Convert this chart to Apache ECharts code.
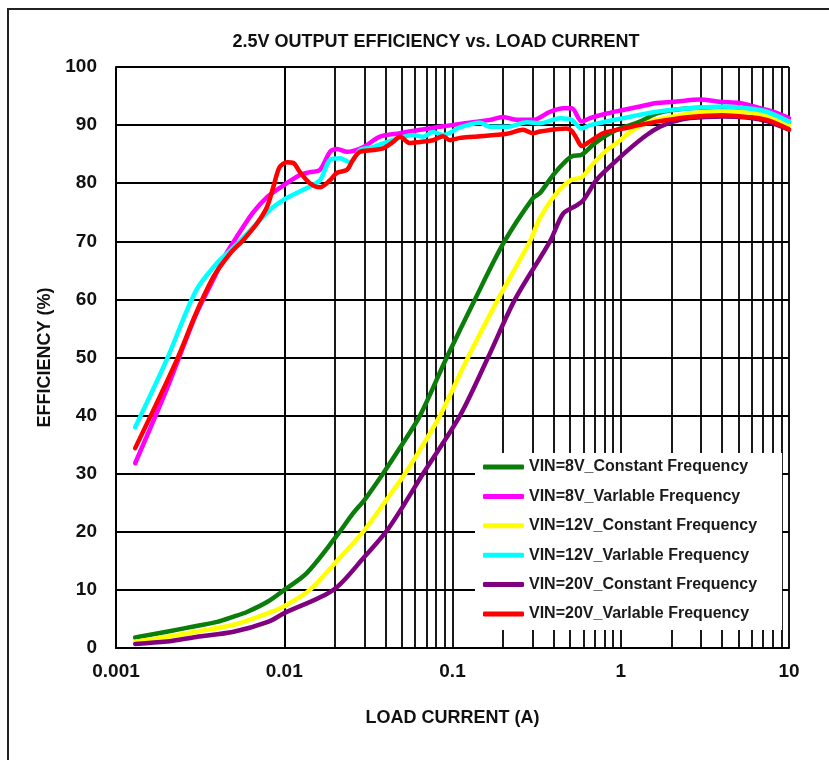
<!DOCTYPE html>
<html><head><meta charset="utf-8">
<script src="https://cdn.jsdelivr.net/npm/echarts@6/dist/echarts.min.js"></script>
<style>html,body{margin:0;padding:0;background:#fff}#c{width:829px;height:760px}</style>
</head><body><div id="c"></div>
<script>
// ---- data (load current in A, efficiency in %) ----
const xTickLabels = ['0.001', '0.01', '0.1', '1', '10'];
const yTickLabels = ['0', '10', '20', '30', '40', '50', '60', '70', '80', '90', '100'];
const seriesNames = [
  'VIN=8V_Constant Frequency',
  'VIN=8V_Varlable Frequency',
  'VIN=12V_Constant Frequency',
  'VIN=12V_Varlable Frequency',
  'VIN=20V_Constant Frequency',
  'VIN=20V_Varlable Frequency'
];
const seriesColors = ['#0a7d0a', '#ff00ff', '#ffff00', '#00ffff', '#800080', '#ff0000'];

const vin8CF = [[0.0013,1.8],[0.002,2.8],[0.003,3.8],[0.004,4.5],[0.005,5.4],[0.006,6.2],[0.008,8.0],[0.01,10.0],[0.0136,12.9],[0.02,18.9],[0.0257,23.2],[0.03,25.5],[0.0386,30],[0.0488,34.5],[0.0641,40],[0.0924,50],[0.136,60],[0.202,69.8],[0.3,77.4],[0.331,78.3],[0.396,81.4],[0.479,84.0],[0.52,84.7],[0.586,84.9],[0.703,86.9],[0.903,88.9],[1.301,90.6],[1.636,92.0],[2.053,92.6],[2.96,93.0],[4.05,93.0],[5.61,92.7],[7.37,92.0],[10,90.5]];
const vin8VF = [[0.0013,31.8],[0.002,44.5],[0.003,57.5],[0.0038,63.5],[0.0044,67.3],[0.0052,70.7],[0.0065,74.9],[0.0079,77.6],[0.0094,79.2],[0.0124,81.4],[0.0142,81.9],[0.0163,82.3],[0.0187,85.4],[0.0206,85.9],[0.0236,85.4],[0.0294,86.2],[0.0371,88],[0.0488,88.6],[0.0641,89.2],[0.0843,89.7],[0.1108,90.2],[0.167,90.9],[0.1995,91.4],[0.2415,90.9],[0.3009,90.9],[0.3797,92.3],[0.456,92.9],[0.511,92.9],[0.586,90.6],[0.657,91.2],[0.825,92.0],[1.031,92.6],[1.301,93.2],[1.636,93.8],[2.053,94.0],[2.96,94.4],[3.89,94.0],[5.11,93.8],[6.72,92.9],[8.04,92.3],[10,91.2]];
const vin12CF = [[0.0013,1.1],[0.002,1.9],[0.003,2.8],[0.005,4.0],[0.008,6.0],[0.01,7.2],[0.0142,10],[0.02,14.6],[0.03,20.3],[0.0405,25.5],[0.0522,30],[0.0641,34.1],[0.0843,40],[0.1236,50],[0.1864,60],[0.2888,70],[0.331,74.0],[0.416,78.3],[0.511,80.6],[0.586,81.0],[0.687,83.4],[0.825,85.7],[0.946,86.9],[1.187,89.2],[1.492,90.6],[2.053,91.5],[2.96,92.2],[4.05,92.4],[5.61,92.2],[7.37,91.6],[10,90.0]];
const vin12VF = [[0.0013,38],[0.002,49.6],[0.003,61.6],[0.004,66.3],[0.0048,68.5],[0.0057,70.6],[0.0072,73.7],[0.0086,75.9],[0.0104,77.5],[0.0137,79.2],[0.0163,80.5],[0.0187,84],[0.0214,84.3],[0.0246,83.6],[0.0282,85.7],[0.0337,86.2],[0.0408,87.1],[0.0488,87.8],[0.0582,88.3],[0.0668,88],[0.0766,88.8],[0.0878,88.3],[0.1108,89.6],[0.1457,90.4],[0.167,89.7],[0.211,89.7],[0.2773,90.5],[0.331,90.3],[0.435,91.2],[0.511,90.9],[0.586,89.4],[0.657,90.0],[1.031,91.2],[1.636,92.3],[2.58,92.9],[4.05,93.2],[5.61,92.9],[7.37,92.3],[10,90.6]];
const vin20CF = [[0.0013,0.7],[0.002,1.1],[0.003,1.9],[0.005,2.8],[0.008,4.5],[0.01,6.0],[0.0196,10],[0.03,15.7],[0.04,19.9],[0.0488,23.6],[0.0668,30],[0.1108,40],[0.1626,50],[0.2352,60],[0.3797,70],[0.4556,74.8],[0.547,76.2],[0.6,77.1],[0.719,80.6],[0.903,83.4],[1.135,86.0],[1.426,88.3],[1.711,89.7],[2.053,90.6],[2.58,91.2],[4.05,91.5],[5.61,91.3],[7.37,90.7],[10,89.2]];
const vin20VF = [[0.0013,34.4],[0.0023,49.6],[0.003,57.7],[0.0038,63.9],[0.0048,68],[0.0057,70.2],[0.0069,73.1],[0.0079,75.9],[0.0086,79.3],[0.0094,82.8],[0.0104,83.6],[0.0113,83.5],[0.0124,81.9],[0.0142,80],[0.0163,79.3],[0.0187,80.5],[0.0206,81.8],[0.0236,82.3],[0.0256,84],[0.0282,85.4],[0.0337,85.7],[0.0386,86],[0.0443,87.1],[0.0488,88],[0.0559,86.9],[0.0641,87.1],[0.0766,87.4],[0.0878,88.1],[0.0966,87.4],[0.1108,87.8],[0.1325,88],[0.211,88.5],[0.2624,89.2],[0.3009,88.6],[0.331,88.9],[0.477,89.4],[0.511,89.0],[0.547,87.7],[0.586,86.4],[0.657,87.2],[0.784,88.6],[1.031,89.4],[1.636,90.6],[2.58,91.4],[4.05,91.7],[5.61,91.4],[7.37,90.9],[10,89.3]];

const seriesData = [vin8CF, vin8VF, vin12CF, vin12VF, vin20CF, vin20VF];

// minor log grid positions (2..9 within each decade)
const minorGrid = [];
for (let e = -3; e <= 0; e++) {
  for (let k = 2; k <= 9; k++) minorGrid.push(+(k * Math.pow(10, e)).toPrecision(3));
}

const FONT = "'Liberation Sans', Arial, sans-serif";
const chart = echarts.init(document.getElementById('c'), null, { renderer: 'canvas' });

const series = [{
  type: 'line', name: '_grid', data: [], silent: true, z: 1,
  markLine: {
    z: 1, silent: true, symbol: ['none', 'none'], label: { show: false },
    lineStyle: { color: '#000', width: 1.8, type: 'solid' },
    emphasis: { disabled: true },
    animation: false,
    data: minorGrid.map(v => ({ xAxis: v }))
  }
}];
seriesData.forEach((d, i) => {
  series.push({
    type: 'line', name: seriesNames[i], data: d, showSymbol: false, symbol: 'none',
    smooth: 0.3, z: 3,
    color: seriesColors[i],
    lineStyle: { color: seriesColors[i], width: 4.5, cap: 'round', join: 'round' }
  });
});

chart.setOption({
  animation: false,
  backgroundColor: '#fff',
  graphic: [
    { type: 'rect', shape: { x: 8, y: 9, width: 900, height: 900 }, style: { fill: 'none', stroke: '#222', lineWidth: 2 }, silent: true },
    { type: 'text', x: 436, y: 42, style: { text: '2.5V OUTPUT EFFICIENCY vs. LOAD CURRENT', font: 'bold 18px ' + FONT, fill: '#111', textAlign: 'center', textVerticalAlign: 'middle' } }
  ],
  grid: { left: 116, top: 67, right: 40, bottom: 112, show: true, borderColor: '#888', borderWidth: 1, containLabel: false },
  legend: {
    z: 20,
    data: seriesNames, orient: 'vertical', left: 475, top: 453,
    backgroundColor: '#fff', padding: [6, 25, 8, 8],
    itemWidth: 41, itemHeight: 5, itemGap: 13.4, icon: 'roundRect',
    textStyle: { fontFamily: FONT, fontWeight: 'bold', fontSize: 16, color: '#1a1a1a', lineHeight: 16 },
    selectedMode: false
  },
  xAxis: {
    type: 'log', logBase: 10, min: 0.001, max: 10,
    name: 'LOAD CURRENT (A)', nameLocation: 'middle', nameGap: 61,
    nameTextStyle: { fontFamily: FONT, fontWeight: 'bold', fontSize: 18, color: '#111' },
    axisLine: { show: true, lineStyle: { color: '#000', width: 2 } },
    axisTick: { show: false },
    axisLabel: {
      margin: 14, fontFamily: FONT, fontWeight: 'bold', fontSize: 19, color: '#111',
      formatter: v => xTickLabels[Math.round(Math.log10(v)) + 3]
    },
    splitLine: { show: true, lineStyle: { color: '#000', width: 1.8 } }
  },
  yAxis: {
    type: 'value', min: 0, max: 100, interval: 10,
    name: 'EFFICIENCY (%)', nameLocation: 'middle', nameGap: 62, nameRotate: 90,
    nameTextStyle: { fontFamily: FONT, fontWeight: 'bold', fontSize: 18, color: '#111' },
    axisLine: { show: true, lineStyle: { color: '#000', width: 2 } },
    axisTick: { show: false },
    axisLabel: {
      margin: 19, fontFamily: FONT, fontWeight: 'bold', fontSize: 19, color: '#111',
      formatter: v => yTickLabels[Math.round(v / 10)]
    },
    splitLine: { show: true, lineStyle: { color: '#000', width: 1.8 } }
  },
  series: series
});
</script>
</body></html>
